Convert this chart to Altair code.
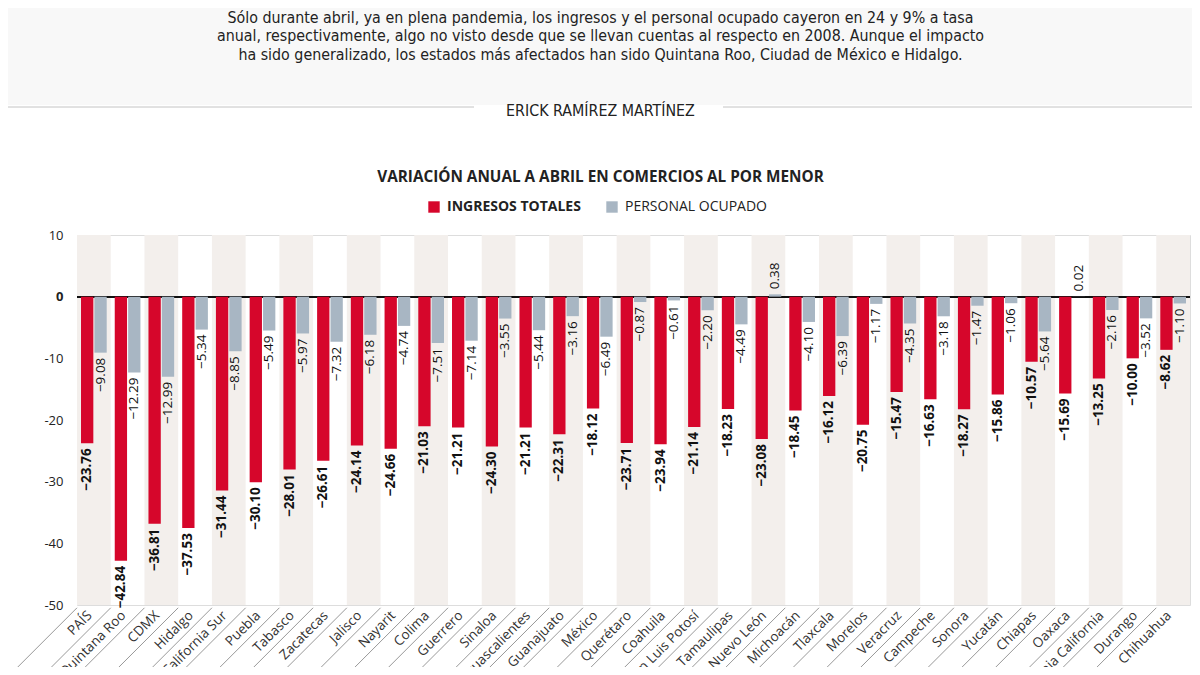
import altair as alt
import pandas as pd

states = ["PAÍS", "Quintana Roo", "CDMX", "Hidalgo", "Baja California Sur", "Puebla",
          "Tabasco", "Zacatecas", "Jalisco", "Nayarit", "Colima", "Guerrero", "Sinaloa",
          "Aguascalientes", "Guanajuato", "México", "Querétaro", "Coahuila",
          "San Luis Potosí", "Tamaulipas", "Nuevo León", "Michoacán", "Tlaxcala",
          "Morelos", "Veracruz", "Campeche", "Sonora", "Yucatán", "Chiapas", "Oaxaca",
          "Baja California", "Durango", "Chihuahua"]
ingresos = [-23.76, -42.84, -36.81, -37.53, -31.44, -30.10, -28.01, -26.61, -24.14, -24.66,
            -21.03, -21.21, -24.30, -21.21, -22.31, -18.12, -23.71, -23.94, -21.14, -18.23,
            -23.08, -18.45, -16.12, -20.75, -15.47, -16.63, -18.27, -15.86, -10.57, -15.69,
            -13.25, -10.00, -8.62]
personal = [-9.08, -12.29, -12.99, -5.34, -8.85, -5.49, -5.97, -7.32, -6.18, -4.74,
            -7.51, -7.14, -3.55, -5.44, -3.16, -6.49, -0.87, -0.61, -2.20, -4.49,
            0.38, -4.10, -6.39, -1.17, -4.35, -3.18, -1.47, -1.06, -5.64, 0.02,
            -2.16, -3.52, -1.10]
series_names = ["INGRESOS TOTALES", "PERSONAL OCUPADO"]
y_ticks = [10, 0, -10, -20, -30, -40, -50]

paragraph = [
    "Sólo durante abril, ya en plena pandemia, los ingresos y el personal ocupado cayeron en 24 y 9% a tasa",
    "anual, respectivamente, algo no visto desde que se llevan cuentas al respecto en 2008. Aunque el impacto",
    "ha sido generalizado, los estados más afectados han sido Quintana Roo, Ciudad de México e Hidalgo.",
]
author = "ERICK RAMÍREZ MARTÍNEZ"
chart_title = "VARIACIÓN ANUAL A ABRIL EN COMERCIOS AL POR MENOR"

RED = "#d6062b"
GREY = "#a8b6c3"
BAND = "#f3efec"
FONT = "Open Sans"
COND = "Liberation Sans Narrow, DejaVu Sans Condensed, Roboto"

rows = []
for i, s in enumerate(states):
    rows.append({"state": s, "serie": series_names[0], "v": ingresos[i]})
    rows.append({"state": s, "serie": series_names[1], "v": personal[i]})
df = pd.DataFrame(rows)
cats = pd.DataFrame({"state": states, "idx": list(range(len(states)))})
even = cats[cats["idx"] % 2 == 0]

xscale = alt.Scale(paddingInner=0, paddingOuter=0)
yscale = alt.Scale(domain=[-50, 10], nice=False, zero=False)

x_axis = alt.Axis(labelAngle=-45, labelAlign="right", labelBaseline="middle",
                  labelPadding=8, labelOffset=-4, ticks=False, domain=False,
                  labelFont=FONT, labelFontSize=13.5, labelColor="#333", title=None)
y_axis = alt.Axis(values=y_ticks, grid=False, ticks=False, domain=False,
                  labelFont=FONT, labelFontSize=13, labelColor="#222", labelPadding=14,
                  labelExpr="replace(datum.label, '\u2212', '-')",
                  labelFontWeight={"condition": {"test": "datum.value == 0", "value": "bold"},
                                   "value": "normal"},
                  title=None)

X = alt.X("state:N", sort=states, scale=xscale, axis=x_axis, title=None)
Y = alt.Y("v:Q", scale=yscale, axis=y_axis, title=None)
xoff = alt.XOffset("serie:N", sort=series_names,
                   scale=alt.Scale(domain=series_names, paddingInner=0.08, paddingOuter=0.3))

bands = alt.Chart(even).mark_bar(color=BAND).encode(
    x=X, y=alt.datum(10, scale=yscale, axis=y_axis, title=None), y2=alt.datum(-50))

zero = alt.Chart(cats).mark_rule(color="#111", strokeWidth=1.5).encode(y=alt.datum(0))

bars = alt.Chart(df).mark_bar().encode(
    x=X, xOffset=xoff, y=Y,
    color=alt.Color("serie:N", sort=series_names,
                    scale=alt.Scale(domain=series_names, range=[RED, GREY]),
                    legend=alt.Legend(orient="none", legendX=350, legendY=-35,
                                      direction="horizontal", title=None,
                                      symbolType="square", symbolSize=130,
                                      symbolStrokeWidth=0, labelFont=FONT,
                                      labelFontSize=14, labelColor="#222",
                                      labelOffset=6, columnPadding=24,
                                      labelFontWeight=alt.ExprRef(
                                          "datum.label == 'INGRESOS TOTALES' ? 'bold' : 'normal'"))),
)

lab_red = alt.Chart(df).transform_filter(
    f"datum.serie == '{series_names[0]}'").mark_text(
    angle=270, align="right", baseline="middle", dx=-5, font=FONT, fontSize=13.5,
    fontWeight="bold", color="#111").encode(
    x=X, xOffset=xoff, y=Y, text=alt.Text("v:Q", format=".2f"))

lab_grey_neg = alt.Chart(df).transform_filter(
    f"datum.serie == '{series_names[1]}' && datum.v < 0").mark_text(
    angle=270, align="right", baseline="middle", dx=-5, font=FONT, fontSize=13.5,
    color="#111").encode(
    x=X, xOffset=xoff, y=Y, text=alt.Text("v:Q", format=".2f"))

lab_grey_pos = alt.Chart(df).transform_filter(
    f"datum.serie == '{series_names[1]}' && datum.v >= 0").mark_text(
    angle=270, align="left", baseline="middle", dx=5, font=FONT, fontSize=13.5,
    color="#111").encode(
    x=X, xOffset=xoff, y=Y, text=alt.Text("v:Q", format=".2f"))

seps = alt.Chart(cats).mark_point(shape="M0,0.04L-1,1.04", size=19600, filled=False,
                                  color="#8c8c8c", strokeWidth=0.9, opacity=1).encode(
    x=alt.X("state:N", sort=states, scale=xscale, axis=x_axis, title=None, bandPosition=0),
    y=alt.datum(-50))

one = pd.DataFrame({"k": [0]})
header_bg = alt.Chart(one).mark_rect(color="#f8f8f8").encode(
    x=alt.value(-69), x2=alt.value(1115), y=alt.value(-227), y2=alt.value(-130))
sep_l = alt.Chart(one).mark_rule(color="#c4c4c4", strokeWidth=1).encode(
    x=alt.value(-69), x2=alt.value(397), y=alt.value(-128))
sep_r = alt.Chart(one).mark_rule(color="#c4c4c4", strokeWidth=1).encode(
    x=alt.value(646), x2=alt.value(1115), y=alt.value(-128))

ZW = "\u200b"
chart = alt.layer(header_bg, sep_l, sep_r, bands, zero, bars, lab_red, lab_grey_neg,
                  lab_grey_pos, seps).properties(
    width=1113, height=370,
    padding={"left": 69, "top": 227, "right": 2, "bottom": 62},
    autosize=alt.AutoSizeParams(type="none"),
    title=alt.TitleParams(
        text=paragraph + [ZW, ZW, author], subtitle=chart_title,
        anchor="middle", dx=-33, dy=189, font=COND, fontSize=15.85, fontWeight="normal",
        color="#222", lineHeight=18.6, subtitleFont=FONT, subtitleFontSize=15.3,
        subtitleFontWeight="bold", subtitleColor="#222", subtitlePadding=51,
        subtitleLineHeight=20, offset=12),
).configure_view(stroke=None).configure(background="white")

chart.save("out.html", embed_options={"renderer": "svg", "actions": False})
